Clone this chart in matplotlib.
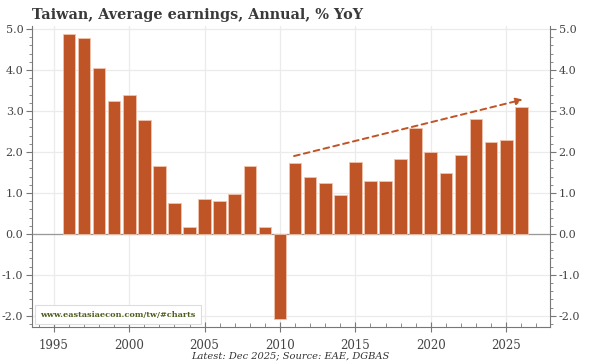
import matplotlib.pyplot as plt
from matplotlib.ticker import MultipleLocator

# annual % YoY, data years 1995-2025 (plotted at year end)
years = list(range(1995, 2026))
values = [4.87, 4.77, 4.06, 3.25, 3.40, 2.77, 1.65, 0.75, 0.16, 0.84,
          0.81, 0.97, 1.66, 0.18, -2.07, 1.72, 1.38, 1.25, 0.96, 1.76,
          1.30, 1.29, 1.82, 2.59, 2.00, 1.48, 1.92, 2.81, 2.25, 2.28, 3.09]
trend_x = [2010.93, 2026.1]
trend_y = [1.90, 3.28]

bar_color = '#BF5427'
text_color = '#444444'
serif = ['DejaVu Serif']

fig = plt.figure(figsize=(6, 3.64), dpi=100)
ax = fig.add_axes([0.053, 0.102, 0.864, 0.826])

xpos = [y + 1 for y in years]
ax.bar(xpos, values, width=0.84, color=bar_color, edgecolor='#F0C4AE',
       linewidth=0.6, zorder=3)
ax.axhline(0, color='#999999', linewidth=0.9, zorder=2)

ax.annotate('', xy=(trend_x[1], trend_y[1]), xytext=(trend_x[0], trend_y[0]),
            arrowprops=dict(arrowstyle='-|>', color=bar_color, lw=1.4,
                            linestyle=(0, (3, 2.2)), mutation_scale=10,
                            shrinkA=0, shrinkB=0), zorder=4)

ax.set_xlim(1993.54, 2027.92)
ax.set_ylim(-2.27, 5.07)
ax.xaxis.set_major_locator(MultipleLocator(5))
ax.xaxis.set_minor_locator(MultipleLocator(1))
ax.yaxis.set_major_locator(MultipleLocator(1))
ax.yaxis.set_minor_locator(MultipleLocator(0.2))
ax.grid(True, which='major', color='#EBEBEB', linewidth=0.9, zorder=0)
ax.set_axisbelow(True)

for s in ['left', 'right', 'bottom']:
    ax.spines[s].set_color('#777777')
ax.spines['top'].set_visible(False)

ax.tick_params(axis='x', which='major', direction='inout', length=7,
               color='#777777', labelsize=8.5, labelcolor=text_color, pad=5)
ax.tick_params(axis='x', which='minor', direction='in', length=3,
               color='#777777')
ax.tick_params(axis='y', which='both', left=True, right=True,
               labelleft=True, labelright=True, color='#777777',
               labelsize=8, labelcolor=text_color, pad=2)
ax.tick_params(axis='y', which='major', length=4)
ax.tick_params(axis='y', which='minor', length=2)
ax.yaxis.set_major_formatter(lambda v, p: f'{v:.1f}')
for lab in ax.get_xticklabels() + ax.get_yticklabels():
    lab.set_family(serif)

fig.text(0.053, 0.958, 'Taiwan, Average earnings, Annual, % YoY',
         fontsize=10.4, fontweight='bold', color='#3a3a3a', family=serif,
         va='center', ha='left')

ax.text(0.016, 0.027, 'www.eastasiaecon.com/tw/#charts', transform=ax.transAxes,
        fontsize=5.9, fontweight='bold', color='#4B5E1E', family=serif,
        va='bottom', ha='left', zorder=5,
        bbox=dict(boxstyle='square,pad=0.65', facecolor='white',
                  edgecolor='#DDDDDD', linewidth=0.8))

fig.text(0.483, 0.022, 'Latest: Dec 2025; Source: EAE, DGBAS', fontsize=7.1,
         style='italic', color='#333333', family=serif, ha='center',
         va='center')

fig.savefig('out.png', dpi=100, facecolor='white')
